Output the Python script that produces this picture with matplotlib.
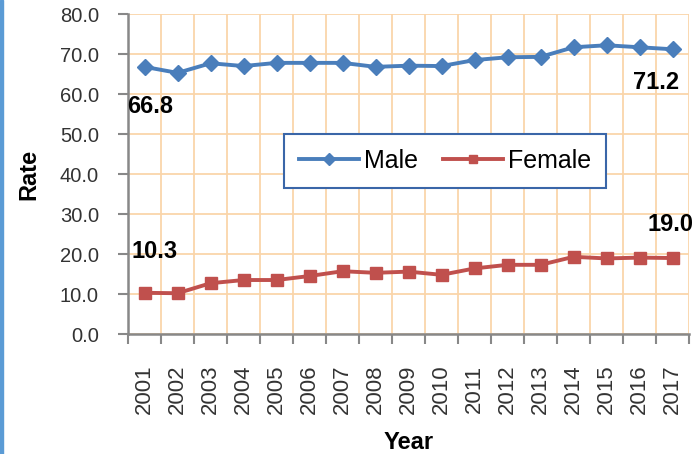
import numpy as np
import matplotlib
matplotlib.use("Agg")
from matplotlib import pyplot as plt
from matplotlib.patches import Rectangle

years = ["2001", "2002", "2003", "2004", "2005", "2006", "2007", "2008", "2009",
         "2010", "2011", "2012", "2013", "2014", "2015", "2016", "2017"]
male = [66.8, 65.3, 67.7, 67.0, 67.8, 67.8, 67.8, 66.8, 67.1,
        67.0, 68.5, 69.2, 69.3, 71.7, 72.2, 71.7, 71.2]
female = [10.3, 10.2, 12.7, 13.5, 13.5, 14.5, 15.7, 15.3, 15.6,
          14.8, 16.4, 17.3, 17.3, 19.3, 18.9, 19.1, 19.0]

plt.rcParams['font.family'] = ['Liberation Sans', 'DejaVu Sans']

fig = plt.figure(figsize=(6.96, 4.54), dpi=100)
ax = fig.add_axes([0.184, 0.2643, 0.806, 0.7047])

x = np.arange(len(years))
ax.plot(x, male, color="#4A7EBB", linewidth=2.8, marker="D", markersize=8.5, label="Male")
ax.plot(x, female, color="#C0504D", linewidth=2.8, marker="s", markersize=8, label="Female")

ax.set_xlim(-0.5, len(years) - 0.5)
ax.set_ylim(0, 80)
ax.set_yticks(np.arange(0, 81, 10))
ax.set_yticklabels([f"{v:.1f}" for v in np.arange(0, 81, 10)], fontsize=14.5, color="#333333")
ax.set_xticks(x)
ax.set_xticklabels(years, rotation=90, fontsize=16, color="#333333")
ax.tick_params(axis="x", length=0, pad=22)
ax.set_xticks(np.arange(-0.5, len(years), 1), minor=True)
ax.tick_params(axis="x", which="minor", length=7, color="#888888", width=1.5)
ax.tick_params(axis="y", length=7, color="#888888", width=1.5, pad=14)

ax.grid(True, which="minor", axis="x", color="#FAD5AA", linewidth=1.3)
ax.grid(True, which="major", axis="y", color="#FAD5AA", linewidth=1.3)
ax.set_axisbelow(True)
for s in ["top", "right"]:
    ax.spines[s].set_visible(False)
for s in ["left", "bottom"]:
    ax.spines[s].set_color("#888888")
    ax.spines[s].set_linewidth(1.8)

ax.set_xlabel("Year", fontsize=17, fontweight="bold", labelpad=12)
ax.set_ylabel("Rate", fontsize=17, fontweight="bold", labelpad=14)

ax.text(0.17, 56.8, "66.8", fontsize=17, fontweight="bold", ha="center", va="center")
ax.text(15.5, 62.8, "71.2", fontsize=17, fontweight="bold", ha="center", va="center")
ax.text(0.29, 20.6, "10.3", fontsize=17, fontweight="bold", ha="center", va="center")
ax.text(15.93, 27.3, "19.0", fontsize=17, fontweight="bold", ha="center", va="center",
        clip_on=False)

leg = ax.legend(loc="center", bbox_to_anchor=(0.565, 0.54), ncol=2, fontsize=18,
                frameon=True, fancybox=False, handlelength=2.4, columnspacing=1.0,
                handletextpad=0.2, borderpad=0.6, markerscale=0.75)
leg.get_frame().set_edgecolor("#3A66A8")
leg.get_frame().set_linewidth(1.5)
leg.get_frame().set_facecolor("white")
leg.get_frame().set_alpha(1)

fig.patches.append(Rectangle((0, 0), 0.005, 1, transform=fig.transFigure,
                             color="#5B9BD5", zorder=5))

fig.savefig("out.png", dpi=100)
